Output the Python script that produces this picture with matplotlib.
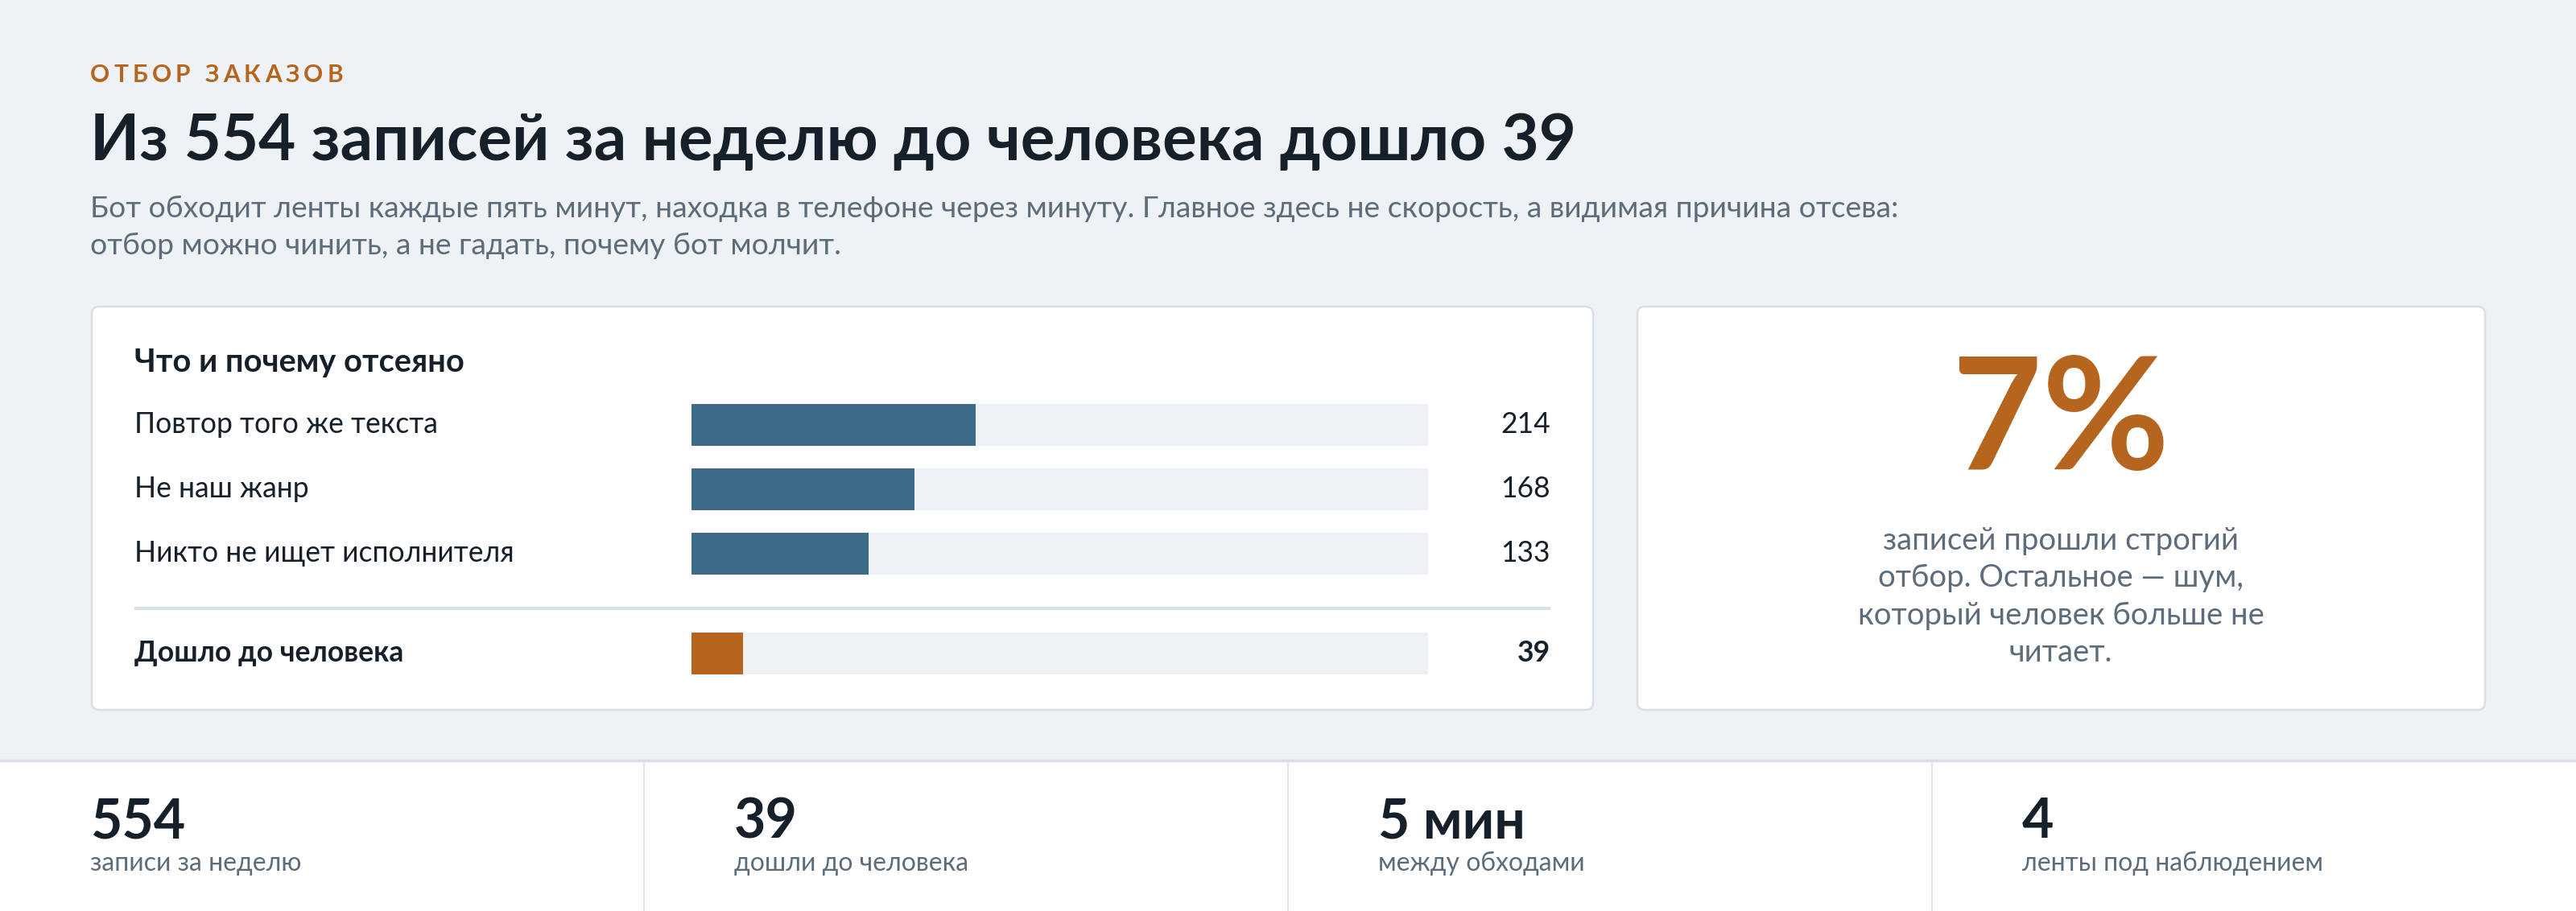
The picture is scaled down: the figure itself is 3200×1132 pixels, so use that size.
import matplotlib
matplotlib.use("Agg")
import matplotlib.pyplot as plt
from matplotlib.patches import FancyBboxPatch, Rectangle

# ---- data ----
kicker = "ОТБОР ЗАКАЗОВ"
title = "Из 554 записей за неделю до человека дошло 39"
subtitle = ["Бот обходит ленты каждые пять минут, находка в телефоне через минуту. Главное здесь не скорость, а видимая причина отсева:",
            "отбор можно чинить, а не гадать, почему бот молчит."]
card_title = "Что и почему отсеяно"
reasons = ["Повтор того же текста", "Не наш жанр", "Никто не ищет исполнителя"]
reason_counts = [214, 168, 133]
passed_label = "Дошло до человека"
passed_count = 39
total = 554
caption = ["записей прошли строгий", "отбор. Остальное — шум,", "который человек больше не", "читает."]
stat_values = ["554", "39", "5 мин", "4"]
stat_labels = ["записи за неделю", "дошли до человека", "между обходами", "ленты под наблюдением"]

# ---- style ----
BG = "#eef2f5"
INK = "#16202a"
MUTED = "#5c6c7b"
ORANGE = "#b5651d"
BLUE = "#3e6a89"
TRACK = "#eef1f4"
LINE = "#d8dfe6"
FONT = ["Lato", "DejaVu Sans"]
plt.rcParams["font.family"] = FONT

W, H = 3200, 1132
fig = plt.figure(figsize=(32, 11.32), dpi=100)
fig.patch.set_facecolor(BG)
bg = fig.add_axes([0, 0, 1, 1])
bg.set_xlim(0, W)
bg.set_ylim(H, 0)
bg.axis("off")

# kicker with letter spacing
r = fig.canvas.get_renderer()
x = 112
for ch in kicker:
    if ch == " ":
        x += 13
        continue
    t = bg.text(x, 102, ch, fontsize=21.5, fontweight="bold", color=ORANGE, va="baseline")
    x += t.get_window_extent(r).width + 5.2

bg.text(112, 199, title, fontsize=57.4, fontweight="bold", color=INK, va="baseline")
for i, line in enumerate(subtitle):
    bg.text(112, 270 + 46 * i, line, fontsize=26.8, color=MUTED, va="baseline")

# cards
for (x0, y0, w, h) in [(114, 381, 1865, 501), (2034, 381, 1053, 501)]:
    bg.add_patch(FancyBboxPatch((x0, y0), w, h, boxstyle="round,pad=0,rounding_size=9",
                                fc="white", ec=LINE, lw=1.8))

bg.text(167, 462, card_title, fontsize=28.7, fontweight="bold", color=INK, va="baseline")

row_y = [528, 608, 688, 812]
labels = reasons + [passed_label]
counts = reason_counts + [passed_count]
colors = [BLUE] * len(reasons) + [ORANGE]
for i, (lab, v) in enumerate(zip(labels, counts)):
    bold = i == len(labels) - 1
    bg.text(167, row_y[i] + 10, lab, fontsize=25.6, color=INK, va="baseline",
            fontweight="bold" if bold else "normal")
    bg.text(1926, row_y[i] + 10, str(v), fontsize=25.6, color=INK, va="baseline", ha="right",
            fontweight="bold" if bold else "normal")
bg.plot([167, 1926], [756, 756], color=LINE, lw=3, solid_capstyle="butt")

# bar axes: x in records, y in row slots
ax = fig.add_axes([859 / W, 1 - 850 / H, 915 / W, 360 / H])
ax.set_xlim(0, total)
ax.set_ylim(850, 490)
ax.axis("off")
ax.barh(row_y, [total] * len(row_y), height=52, color=TRACK)
ax.barh(row_y, counts, height=52, color=colors)

# share card
share = round(100 * passed_count / total)
bg.text(2560, 583, f"{share}%", fontsize=139, fontweight="bold", color=ORANGE, va="baseline", ha="center")
for i, line in enumerate(caption):
    bg.text(2560, 683 + 46.3 * i, line, fontsize=27.5, color=MUTED, va="baseline", ha="center")

# bottom stats strip
bg.add_patch(Rectangle((0, 945), W, H - 945, fc="white", ec="none"))
bg.plot([0, W], [945, 945], color=LINE, lw=2.5)
col_w = W / len(stat_values)
for i, (v, lab) in enumerate(zip(stat_values, stat_labels)):
    if i:
        bg.plot([i * col_w, i * col_w], [946, H], color="#e2e7ec", lw=1.5)
    bg.text(i * col_w + 112, 1041, v, fontsize=49, fontweight="bold", color=INK, va="baseline")
    bg.text(i * col_w + 112, 1082, lab, fontsize=23, color=MUTED, va="baseline")

fig.savefig("out.png", dpi=100, facecolor=BG)
